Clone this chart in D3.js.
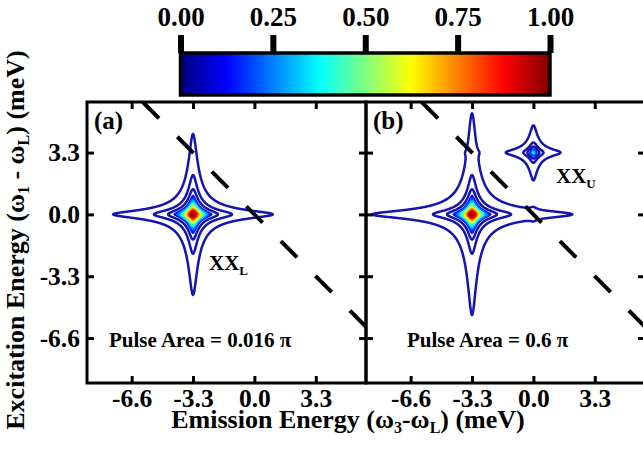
<!DOCTYPE html>
<html><head><meta charset="utf-8">
<script src="https://cdn.jsdelivr.net/npm/d3@7"></script>
<style>html,body{margin:0;padding:0;background:#fff;} svg{display:block;}</style>
</head><body>
<svg id="chart" width="643" height="451"></svg>
<script>
// ---------------- data ----------------
const xTicks = [-6.6, -3.3, 0.0, 3.3];
const yTicks = [-6.6, -3.3, 0.0, 3.3];
const colorTicks = [0, 0.25, 0.5, 0.75, 1];
const panelNames = ["(a)", "(b)"];
const pulseLabels = ["Pulse Area = 0.016 \u03C0", "Pulse Area = 0.6 \u03C0"];
// panel (a) peaks: centre (meV), amplitude, Lorentzian width (meV)
const peakA_x = [-3.3];
const peakA_y = [0.0];
const peakA_amp = [1.0];
const peakA_w = [0.215];
// panel (b) peaks: XX_L, XX_U and two weak cross peaks
const peakB_x = [-3.3, 0.0, -3.3, 0.0];
const peakB_y = [0.0, 3.3, 3.3, 0.0];
const peakB_amp = [1.0, 0.10, 0.0012, 0.0012];
const peakB_w = [0.215, 0.185, 0.215, 0.215];
// contour line levels (dark blue lines) and filled levels
const lineLevelsA = [0.0025, 0.0104, 0.025];
const lineLevelsB = [0.0016, 0.0104, 0.025];
const fillLevels = [0.040, 0.046, 0.052, 0.060, 0.069, 0.079, 0.090, 0.103, 0.118, 0.135, 0.155, 0.177,
                    0.203, 0.232, 0.266, 0.305, 0.349, 0.400, 0.458, 0.524, 0.600, 0.687, 0.787, 0.900];
const diagonal = [[-6, 6], [6, -6]];

// ---------------- layout ----------------
const svg = d3.select("#chart");
const FONT = "'Liberation Serif','Times New Roman',serif";
const xDomain = [-9, 6], yDomain = [-9, 6];
const panels = [
  {x0: 87, x1: 366, peaks: [peakA_x, peakA_y, peakA_amp, peakA_w], lines: lineLevelsA},
  {x0: 366, x1: 645, peaks: [peakB_x, peakB_y, peakB_amp, peakB_w], lines: lineLevelsB}
];
const yTop = 102, yBot = 383;
const y = d3.scaleLinear().domain(yDomain).range([yBot, yTop]);

function jet(t) {
  const c = v => Math.max(0, Math.min(1, v));
  const r = c(1.5 - Math.abs(4 * t - 3)), g = c(1.5 - Math.abs(4 * t - 2)), b = c(1.5 - Math.abs(4 * t - 1));
  return d3.rgb(r * 255, g * 255, b * 255).toString();
}
const tOf = f => Math.max(0, Math.min(0.95, 1.12 + 0.73 * Math.log10(f)));

const step = 0.025;
const nx = Math.round((xDomain[1] - xDomain[0]) / step) + 1;
const ny = Math.round((yDomain[1] - yDomain[0]) / step) + 1;

const lorentz = (u, w) => 1 / (1 + (u / w) * (u / w));
function buildField(pk) {
  const [px, py, amp, w] = pk;
  const vals = new Float64Array(nx * ny);
  for (let k = 0; k < px.length; k++) {
    const Lx = new Float64Array(nx), Ly = new Float64Array(ny);
    for (let i = 0; i < nx; i++) Lx[i] = lorentz(xDomain[0] + i * step - px[k], w[k]);
    for (let j = 0; j < ny; j++) Ly[j] = lorentz(yDomain[1] - j * step - py[k], w[k]);
    for (let j = 0; j < ny; j++) {
      const off = j * nx, a = amp[k] * Ly[j];
      for (let i = 0; i < nx; i++) vals[off + i] += a * Lx[i];
    }
  }
  return vals;
}

const defs = svg.append("defs");

panels.forEach((P, idx) => {
  const x = d3.scaleLinear().domain(xDomain).range([P.x0, P.x1]);
  const clipId = "clip" + idx;
  defs.append("clipPath").attr("id", clipId).append("rect")
    .attr("x", P.x0).attr("y", yTop).attr("width", P.x1 - P.x0).attr("height", yBot - yTop);
  const g = svg.append("g");
  const plot = g.append("g").attr("clip-path", `url(#${clipId})`);

  const vals = buildField(P.peaks);
  const contours = d3.contours().size([nx, ny]);
  const proj = d3.geoTransform({
    point: function(gx, gy) {
      this.stream.point(x(xDomain[0] + (gx - 0.5) * step), y(yDomain[1] - (gy - 0.5) * step));
    }
  });
  const path = d3.geoPath(proj);

  P.lines.forEach(lv => {
    plot.append("path").attr("d", path(contours.contour(vals, lv)))
      .attr("fill", "none").attr("stroke", "#1414b4").attr("stroke-width", 2.5)
      .attr("stroke-linejoin", "round");
  });
  fillLevels.forEach(lv => {
    plot.append("path").attr("d", path(contours.contour(vals, lv)))
      .attr("fill", jet(tOf(lv))).attr("stroke", "none");
  });
  plot.append("path").datum(diagonal)
    .attr("d", d3.line().x(d => x(d[0])).y(d => y(d[1])))
    .attr("fill", "none").attr("stroke", "#000").attr("stroke-width", 4)
    .attr("stroke-dasharray", "23,26");

  const fmt = d => d.toFixed(1);
  const styleAxis = (sel) => {
    sel.select(".domain").remove();
    sel.selectAll(".tick line").attr("stroke", "#000").attr("stroke-width", 3);
    sel.selectAll("text").attr("font-family", FONT).attr("font-weight", "bold")
      .attr("font-size", 25.5).attr("fill", "#000");
  };
  g.append("g").attr("transform", `translate(0,${yBot})`)
    .call(d3.axisBottom(x).tickValues(xTicks).tickFormat(fmt).tickSize(-7).tickPadding(6))
    .call(styleAxis);
  g.append("g").attr("transform", `translate(0,${yTop})`)
    .call(d3.axisTop(x).tickValues(xTicks).tickFormat("").tickSize(-7))
    .call(styleAxis);
  g.append("g").attr("transform", `translate(${P.x0},0)`)
    .call(d3.axisLeft(y).tickValues(yTicks).tickFormat(idx === 0 ? fmt : "").tickSize(-7).tickPadding(7))
    .call(styleAxis);
  g.append("g").attr("transform", `translate(${P.x1},0)`)
    .call(d3.axisRight(y).tickValues(yTicks).tickFormat("").tickSize(-7))
    .call(styleAxis);

  g.append("rect").attr("x", P.x0).attr("y", yTop).attr("width", P.x1 - P.x0).attr("height", yBot - yTop)
    .attr("fill", "none").attr("stroke", "#000").attr("stroke-width", 3);

  g.append("text").attr("x", P.x0 + 7).attr("y", 129).text(panelNames[idx])
    .attr("font-family", FONT).attr("font-weight", "bold").attr("font-size", 25);
  g.append("text").attr("x", idx === 0 ? 109 : 407).attr("y", 347).text(pulseLabels[idx])
    .attr("font-family", FONT).attr("font-weight", "bold").attr("font-size", 21);
});

function subLabel(xp, yp, main, sub) {
  const t = svg.append("text").attr("x", xp).attr("y", yp)
    .attr("font-family", FONT).attr("font-weight", "bold").attr("font-size", 21);
  t.append("tspan").text(main);
  t.append("tspan").attr("font-size", 13).attr("dy", 5).text(sub);
}
subLabel(209, 270, "XX", "L");
subLabel(556, 183, "XX", "U");

const xt = svg.append("text").attr("x", 348).attr("y", 428).attr("text-anchor", "middle")
  .attr("font-family", FONT).attr("font-weight", "bold").attr("font-size", 26);
xt.append("tspan").text("Emission Energy (\u03C9");
xt.append("tspan").attr("font-size", 16).attr("dy", 5).text("3");
xt.append("tspan").attr("dy", -5).text("-\u03C9");
xt.append("tspan").attr("font-size", 16).attr("dy", 5).text("L");
xt.append("tspan").attr("dy", -5).text(") (meV)");

const yt = svg.append("text").attr("transform", "translate(24,240) rotate(-90)").attr("text-anchor", "middle")
  .attr("font-family", FONT).attr("font-weight", "bold").attr("font-size", 26);
yt.append("tspan").text("Excitation Energy (\u03C9");
yt.append("tspan").attr("font-size", 16).attr("dy", 5).text("1");
yt.append("tspan").attr("dy", -5).text(" - \u03C9");
yt.append("tspan").attr("font-size", 16).attr("dy", 5).text("L");
yt.append("tspan").attr("dy", -5).text(") (meV)");

const cb = d3.scaleLinear().domain([0, 1]).range([180.5, 550]);
const grad = defs.append("linearGradient").attr("id", "jetgrad").attr("x1", "0%").attr("x2", "100%");
d3.range(0, 1.0001, 0.02).forEach(t => grad.append("stop").attr("offset", (t * 100) + "%").attr("stop-color", jet(t)));
svg.append("rect").attr("x", cb(0)).attr("y", 53).attr("width", cb(1) - cb(0)).attr("height", 42)
  .attr("fill", "url(#jetgrad)").attr("stroke", "#000").attr("stroke-width", 3.5);
svg.append("g").attr("transform", "translate(0,53)")
  .call(d3.axisTop(cb).tickValues(colorTicks).tickFormat(d => d.toFixed(2)).tickSize(18).tickPadding(9))
  .call(sel => {
    sel.select(".domain").remove();
    sel.selectAll(".tick line").attr("stroke", "#000").attr("stroke-width", 6);
    sel.selectAll("text").attr("font-family", FONT).attr("font-weight", "bold").attr("font-size", 27).attr("fill", "#000");
  });
</script>
</body></html>
